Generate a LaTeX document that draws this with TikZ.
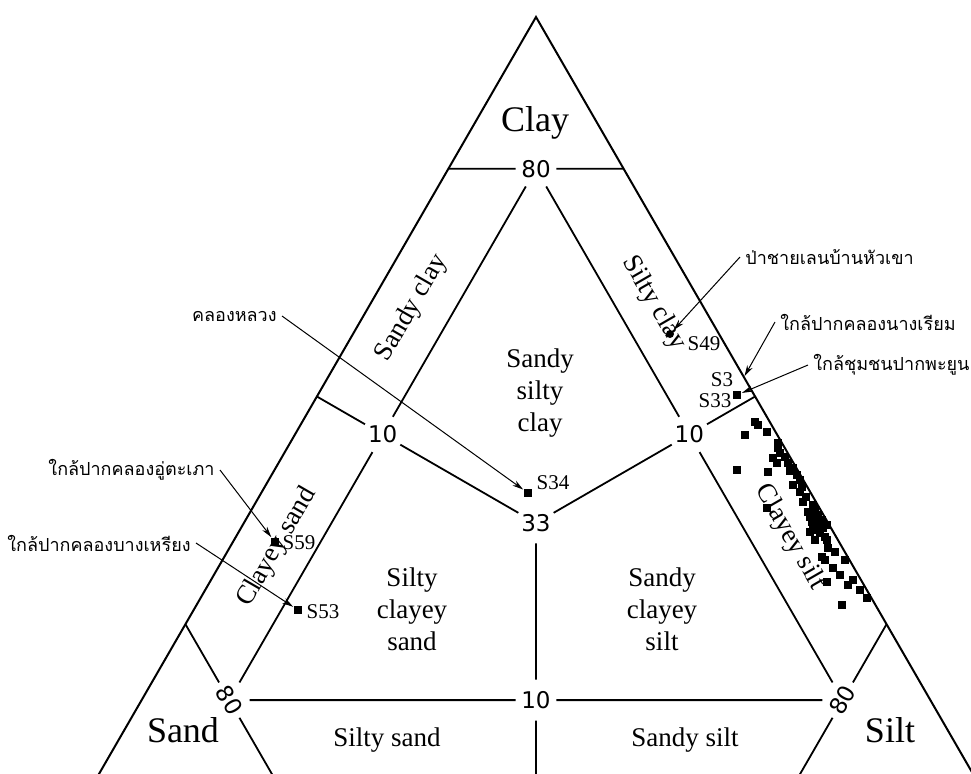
\documentclass[tikz,border=0pt]{standalone}
\usepackage{fontspec}
\setmainfont{Liberation Serif}
\newfontfamily\thaifont[Script=Thai]{Loma}
\newfontfamily\numfont{DejaVu Sans}
\usetikzlibrary{arrows.meta}
\begin{document}
\begin{tikzpicture}[x=0.5pt,y=-0.5pt,
  edge/.style={line width=0.9pt},
  num/.style={circle,inner sep=0pt,minimum size=20pt,font=\numfont\fontsize{11.5}{13}\selectfont},
  big/.style={font=\fontsize{18}{20}\selectfont},
  region/.style={align=center,inner sep=0pt,font=\fontsize{13.5}{16}\selectfont},
  samp/.style={font=\fontsize{10.5}{12}\selectfont,inner sep=0pt},
  sq/.style={rectangle,fill=black,inner sep=0pt,minimum size=3.6pt},
  rd/.style={circle,fill=black,inner sep=0pt,minimum size=4pt},
  thai/.style={font=\thaifont\fontsize{9}{11}\selectfont,inner sep=2.5pt},
  arr/.style={line width=0.5pt,-{Stealth[length=5.5pt,width=3pt]},shorten >=0.5pt},
]
\useasboundingbox (0,0) rectangle (971,773);
\fill[white] (0,0) rectangle (971,773);
\clip (0,0) rectangle (971,773);

% vertices
\coordinate (C) at (536,17);
\coordinate (S) at (97.8,776);
\coordinate (T) at (974.2,776);

\draw[edge,line width=1pt,line join=miter] (C) -- (S) -- (T) -- cycle;

% label nodes of the grid
\node[num] (top80) at (barycentric cs:C=0.8,S=0.1,T=0.1) {80};
\node[num,rotate=-60] (left80) at (barycentric cs:C=0.1,S=0.8,T=0.1) {80};
\node[num,rotate=60] (right80) at (barycentric cs:C=0.1,S=0.1,T=0.8) {80};
\node[num] (left10) at (barycentric cs:C=0.45,S=0.45,T=0.1) {10};
\node[num] (right10) at (barycentric cs:C=0.45,S=0.1,T=0.45) {10};
\node[num] (bot10) at (barycentric cs:C=0.1,S=0.45,T=0.45) {10};
\node[num] (c33) at (barycentric cs:C=1,S=1,T=1) {33};

% points on the edges
\coordinate (cL) at (barycentric cs:C=0.8,S=0.2,T=0);
\coordinate (cR) at (barycentric cs:C=0.8,S=0,T=0.2);
\coordinate (sL) at (barycentric cs:C=0.2,S=0.8,T=0);
\coordinate (sB) at (barycentric cs:C=0,S=0.8,T=0.2);
\coordinate (tR) at (barycentric cs:C=0.2,S=0,T=0.8);
\coordinate (tB) at (barycentric cs:C=0,S=0.2,T=0.8);
\coordinate (mL) at (barycentric cs:C=0.5,S=0.5,T=0);
\coordinate (mR) at (barycentric cs:C=0.5,S=0,T=0.5);
\coordinate (mB) at (barycentric cs:C=0,S=0.5,T=0.5);

\draw[edge] (cL) -- (top80) -- (cR);
\draw[edge] (sL) -- (left80) -- (sB);
\draw[edge] (tR) -- (right80) -- (tB);
\draw[edge] (top80) -- (left10) -- (left80);
\draw[edge] (top80) -- (right10) -- (right80);
\draw[edge] (left80) -- (bot10) -- (right80);
\draw[edge] (left10) -- (mL);
\draw[edge] (right10) -- (mR);
\draw[edge] (bot10) -- (mB);
\draw[edge] (left10) -- (c33);
\draw[edge] (right10) -- (c33);
\draw[edge] (bot10) -- (c33);

% corner and region labels
\node[big] (clay) at (535,123) {Clay};
\node[big] (sand) at (183,730) {Sand};
\node[big] (silt) at (890,730) {Silt};
\node[region] (ssc) at (540,393) {Sandy\\silty\\clay};
\node[region] (scsand) at (412,609) {Silty\\clayey\\sand};
\node[region] (scsilt) at (662,609) {Sandy\\clayey\\silt};
\node[region] (ssand) at (387,740) {Silty sand};
\node[region] (ssilt) at (685,740) {Sandy silt};
\node[region,rotate=60] (sclay) at (412,308) {Sandy clay};
\node[region,rotate=60] (csand) at (277,547) {Clayey sand};
\node[region,rotate=-60] (siclay) at (654,303) {Silty clay};
\node[region,rotate=-60] (csilt) at (790,537) {Clayey silt};

% cluster of samples
\foreach \px/\py [count=\i] in {755/422,758/425,767/432,745/435,778/443,778/448,780/453,773/458,777/463,788/463,
  793/468,737/470,768/472,797/475,800/480,793/485,802/487,800/492,803/502,813/505,767/508,
  815/510,810/517,818/515,822/520,812/522,817/527,823/528,827/525,810/532,820/533,825/537,
  815/540,827/540,828/548,835/552,845/560,822/557,825/560,833/568,840/575,853/580,848/585,
  827/582,860/590,867/598,842/605,808/512,813/530,819/523,806/497,785/457,790/471}
  \node[sq] (p\i) at (\px,\py) {};

% named samples
\node[sq] (s34) at (528,493) {};
\node[sq] (s59) at (275,542) {};
\node[sq] (s53) at (298,610) {};
\node[rd] (s49) at (670,334) {};
\node[sq] (s33) at (737,395) {};
\coordinate (s3) at (744,377);

\node[samp] (l34) at (553,483) {S34};
\node[samp] (l59) at (299,543) {S59};
\node[samp] (l53) at (323,612) {S53};
\node[samp] (l49) at (704,344) {S49};
\node[samp] (l3) at (722,380) {S3};
\node[samp] (l33) at (715,401) {S33};

% Thai place names
\node[thai,anchor=west] (t49) at (740,257) {ป่าชายเลนบ้านหัวเขา};
\node[thai,anchor=west] (t3) at (775,322) {ใกล้ปากคลองนางเรียม};
\node[thai,anchor=west] (t33) at (808,365) {ใกล้ชุมชนปากพะยูน};
\node[thai,anchor=east] (t34) at (282,316) {คลองหลวง};
\node[thai,anchor=east] (t59) at (220,470) {ใกล้ปากคลองอู่ตะเภา};
\node[thai,anchor=east] (t53) at (196,543) {ใกล้ปากคลองบางเหรียง};

\draw[arr] (t49.west) -- (s49);
\draw[arr] (t3.west) -- (s3);
\draw[arr] (t33.west) -- (s33);
\draw[arr] (t34.east) -- (s34);
\draw[arr] (t59.east) -- (s59);
\draw[arr] (t53.east) -- (s53);
\end{tikzpicture}
\end{document}
